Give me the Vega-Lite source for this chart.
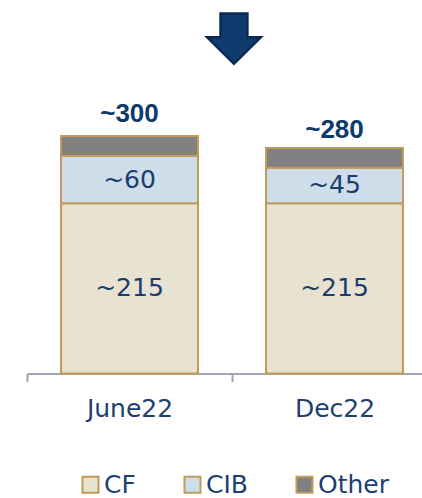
{
  "$schema": "https://vega.github.io/schema/vega-lite/v6.json",
  "width": 422,
  "height": 498,
  "padding": 0,
  "autosize": {"type": "none"},
  "background": "white",
  "config": {"view": {"stroke": null}},
  "datasets": {
    "segs": [
      {"period": "June22", "segment": "CF", "value": 215, "label": "~215", "ord": 1},
      {"period": "June22", "segment": "CIB", "value": 60, "label": "~60", "ord": 2},
      {"period": "June22", "segment": "Other", "value": 25, "label": "", "ord": 3},
      {"period": "Dec22", "segment": "CF", "value": 215, "label": "~215", "ord": 1},
      {"period": "Dec22", "segment": "CIB", "value": 45, "label": "~45", "ord": 2},
      {"period": "Dec22", "segment": "Other", "value": 25, "label": "", "ord": 3}
    ],
    "totals": [
      {"period": "June22", "total": 300, "label": "~300"},
      {"period": "Dec22", "total": 280, "label": "~280"}
    ]
  },
  "encoding": {
    "x": {
      "field": "period",
      "type": "nominal",
      "sort": ["June22", "Dec22"],
      "scale": {"range": [27, 437], "paddingInner": 0, "paddingOuter": 0},
      "axis": {
        "title": null,
        "orient": "bottom",
        "offset": -124.5,
        "tickBand": "extent",
        "tickSize": 8,
        "tickWidth": 2,
        "tickColor": "#A0A4B4",
        "domainColor": "#A0A4B4",
        "domainWidth": 2,
        "labelFont": "DejaVu Sans",
        "labelFontSize": 25,
        "labelColor": "#1F3F6E",
        "labelPadding": 15,
        "labelAngle": 0
      }
    }
  },
  "layer": [
    {
      "data": {"name": "segs"},
      "mark": {"type": "bar", "stroke": "#C49A5C", "strokeWidth": 2, "width": {"band": 0.668}},
      "encoding": {
        "y": {
          "field": "value",
          "type": "quantitative",
          "stack": "zero",
          "scale": {"domain": [0, 300], "range": [373.5, 136], "nice": false},
          "axis": null
        },
        "color": {
          "field": "segment",
          "type": "nominal",
          "scale": {"domain": ["CF", "CIB", "Other"], "range": ["#E8E2D0", "#CDDEEA", "#808080"]},
          "legend": {
            "orient": "none",
            "legendX": 78,
            "legendY": 472,
            "direction": "horizontal",
            "title": null,
            "symbolType": "square",
            "symbolSize": 256,
            "symbolStrokeColor": "#C49A5C",
            "symbolStrokeWidth": 2,
            "symbolOpacity": 1,
            "labelFont": "DejaVu Sans",
            "labelFontSize": 25,
            "labelColor": "#1F3F6E",
            "columnPadding": 44,
            "labelOffset": 1
          }
        },
        "order": {"field": "ord", "type": "quantitative"}
      }
    },
    {
      "data": {"name": "segs"},
      "mark": {"type": "text", "font": "DejaVu Sans", "fontSize": 25, "color": "#1B3D6E", "baseline": "middle", "align": "center"},
      "encoding": {
        "y": {"field": "value", "type": "quantitative", "stack": "zero", "bandPosition": 0.5},
        "text": {"field": "label"},
        "order": {"field": "ord", "type": "quantitative"}
      }
    },
    {
      "data": {"name": "totals"},
      "mark": {"type": "text", "font": "Liberation Sans", "fontWeight": "bold", "fontSize": 26, "color": "#0E3A6B", "baseline": "alphabetic", "align": "center", "dy": -14},
      "encoding": {
        "y": {"field": "total", "type": "quantitative"},
        "text": {"field": "label"}
      }
    },
    {
      "data": {"values": [{"marker": "down"}]},
      "mark": {
        "type": "point",
        "shape": "M-0.41,-0.9 L0.55,-0.9 L0.55,-0.05 L1.03,-0.05 L0.07,0.9 L-0.89,-0.05 L-0.41,-0.05 Z",
        "size": 3136,
        "filled": true,
        "opacity": 1,
        "fill": "#0E3A6E",
        "stroke": "#0A2A55",
        "strokeWidth": 2.5,
        "strokeJoin": "miter"
      },
      "encoding": {
        "x": {"datum": "June22", "type": "nominal", "bandPosition": 1},
        "y": {"datum": 423, "type": "quantitative"}
      }
    }
  ]
}
